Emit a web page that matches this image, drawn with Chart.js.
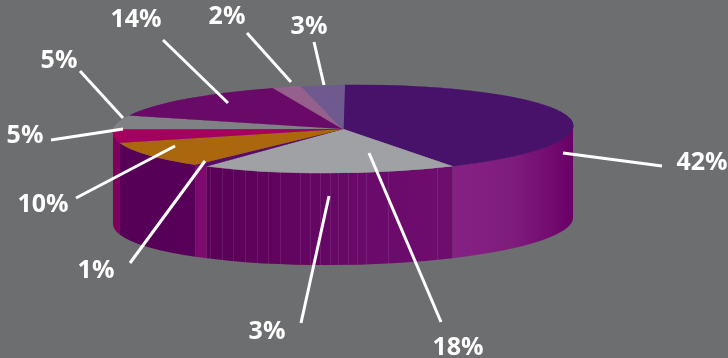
<!DOCTYPE html>
<html>
<head>
<meta charset="utf-8">
<title>Pie</title>
<script src="https://cdn.jsdelivr.net/npm/chart.js@4"></script>
<style>
  html, body { margin: 0; padding: 0; background: #6d6e70; }
  #chart { display: block; }
</style>
</head>
<body>
<canvas id="chart" width="728" height="358"></canvas>
<script>
// slices, clockwise from the top
const sliceNames = ["a", "b", "c", "d", "e", "f", "g", "h", "i"];
const sliceValues = [42, 18, 1, 10, 5, 5, 14, 2, 3];

// colours of the top face and of the side wall (wall: left to right)
const topColors = ["#48126a", "#a0a1a4", "#5a0a6b", "#ab670d", "#a3005f", "#808184", "#6a0a68", "#95608c", "#6f5a90"];
const wallColors = [
  ["#842283", "#821f80", "#7e1c7c", "#760f74", "#6a0066"],
  ["#5a0058", "#620460", "#6a0a6a", "#6e0d6e"],
  ["#7a0a6c", "#800a70"],
  ["#560058", "#580059"],
  ["#7c005c", "#7c005c"],
];

// callouts: the text, then where the text and its leader sit
const calloutLabels = ["42%", "18%", "3%", "1%", "10%", "5%", "5%", "14%", "2%", "3%"];
const calloutLayout = [
  { tx: 702, ty: 163, line: [563, 153, 662, 166] },
  { tx: 458, ty: 348, line: [369, 153, 441, 322] },
  { tx: 267, ty: 332, line: [329, 196, 301, 323] },
  { tx: 96, ty: 271, line: [205, 161, 130, 263] },
  { tx: 43, ty: 205, line: [175, 146, 76, 198] },
  { tx: 25, ty: 136, line: [123, 129, 51, 140] },
  { tx: 59, ty: 61, line: [123, 118, 80, 71] },
  { tx: 136, ty: 20, line: [228, 103, 163, 40] },
  { tx: 227, ty: 17, line: [291, 82, 247, 33] },
  { tx: 309, ty: 27, line: [324, 85, 314, 42] },
];

// the disc on the page, tilted a little (right side up)
const disc = { x: 343, y: 129, rx: 230, ry: 44, depth: 92, tilt: -0.8 * Math.PI / 180 };
// thin light seams in the front wall
const seamXs = [210, 222, 233, 245, 257, 268, 280, 300, 310, 320, 330, 338, 348, 357, 366, 388, 437];

function wallY(x) {
  const k = (x - disc.x) / disc.rx;
  return disc.y + disc.ry * Math.sqrt(1 - k * k) + (x - disc.x) * Math.tan(disc.tilt);
}

// slices 0..3 have their own wall, all later ones share the left edge colour
function wallIndex(i) {
  return Math.min(i, wallColors.length - 1);
}

const pie3d = {
  id: "pie3d",
  beforeDatasetsDraw(chart) {
    const ctx = chart.ctx;
    const arcs = chart.getDatasetMeta(0).data;

    // --- Side wall, only the part that faces us ---
    arcs.forEach((arc, idx) => {
      const { startAngle, endAngle } = arc.getProps(["startAngle", "endAngle"], true);
      const a0 = Math.max(startAngle, 0);
      const a1 = Math.min(endAngle, Math.PI);
      if (a1 <= a0) return;
      const stops = wallColors[wallIndex(idx)];
      const left = disc.x + disc.rx * Math.cos(a1);
      const right = disc.x + disc.rx * Math.cos(a0);
      const grad = ctx.createLinearGradient(left, 0, right, 0);
      stops.forEach((c, i) => grad.addColorStop(i / (stops.length - 1), c));
      ctx.beginPath();
      ctx.ellipse(disc.x, disc.y, disc.rx, disc.ry, disc.tilt, a0, a1);
      ctx.ellipse(disc.x, disc.y + disc.depth, disc.rx, disc.ry, disc.tilt, a1, a0, true);
      ctx.closePath();
      ctx.fillStyle = grad;
      ctx.fill();
    });

    ctx.strokeStyle = "rgba(255,255,255,0.09)";
    ctx.lineWidth = 1;
    seamXs.forEach((x) => {
      const y = wallY(x);
      ctx.beginPath();
      ctx.moveTo(x + 0.5, y);
      ctx.lineTo(x + 0.5, y + disc.depth);
      ctx.stroke();
    });

    // --- Squash the library's round pie into the top face ---
    const first = arcs[0].getProps(["x", "y", "outerRadius"], true);
    ctx.save();
    ctx.translate(disc.x, disc.y);
    ctx.rotate(disc.tilt);
    ctx.scale(disc.rx / first.outerRadius, disc.ry / first.outerRadius);
    ctx.translate(-first.x, -first.y);
  },
  afterDatasetsDraw(chart) {
    chart.ctx.restore();
  },
  afterDraw(chart) {
    const ctx = chart.ctx;
    ctx.save();
    ctx.strokeStyle = "#ffffff";
    ctx.fillStyle = "#ffffff";
    ctx.lineWidth = 3;
    ctx.font = "700 25px 'Open Sans'";
    ctx.textAlign = "center";
    ctx.textBaseline = "middle";
    calloutLabels.forEach((text, i) => {
      const c = calloutLayout[i];
      ctx.beginPath();
      ctx.moveTo(c.line[0], c.line[1]);
      ctx.lineTo(c.line[2], c.line[3]);
      ctx.stroke();
      ctx.fillText(text, c.tx, c.ty);
    });
    ctx.restore();
  },
};

new Chart(document.getElementById("chart"), {
  type: "pie",
  data: {
    labels: sliceNames,
    datasets: [
      {
        data: sliceValues,
        backgroundColor: topColors,
        borderColor: topColors,
        borderWidth: 1,
        clip: false,
      },
    ],
  },
  options: {
    responsive: false,
    animation: false,
    rotation: 0.5,
    plugins: { legend: { display: false }, tooltip: { enabled: false } },
  },
  plugins: [pie3d],
});
</script>
</body>
</html>
